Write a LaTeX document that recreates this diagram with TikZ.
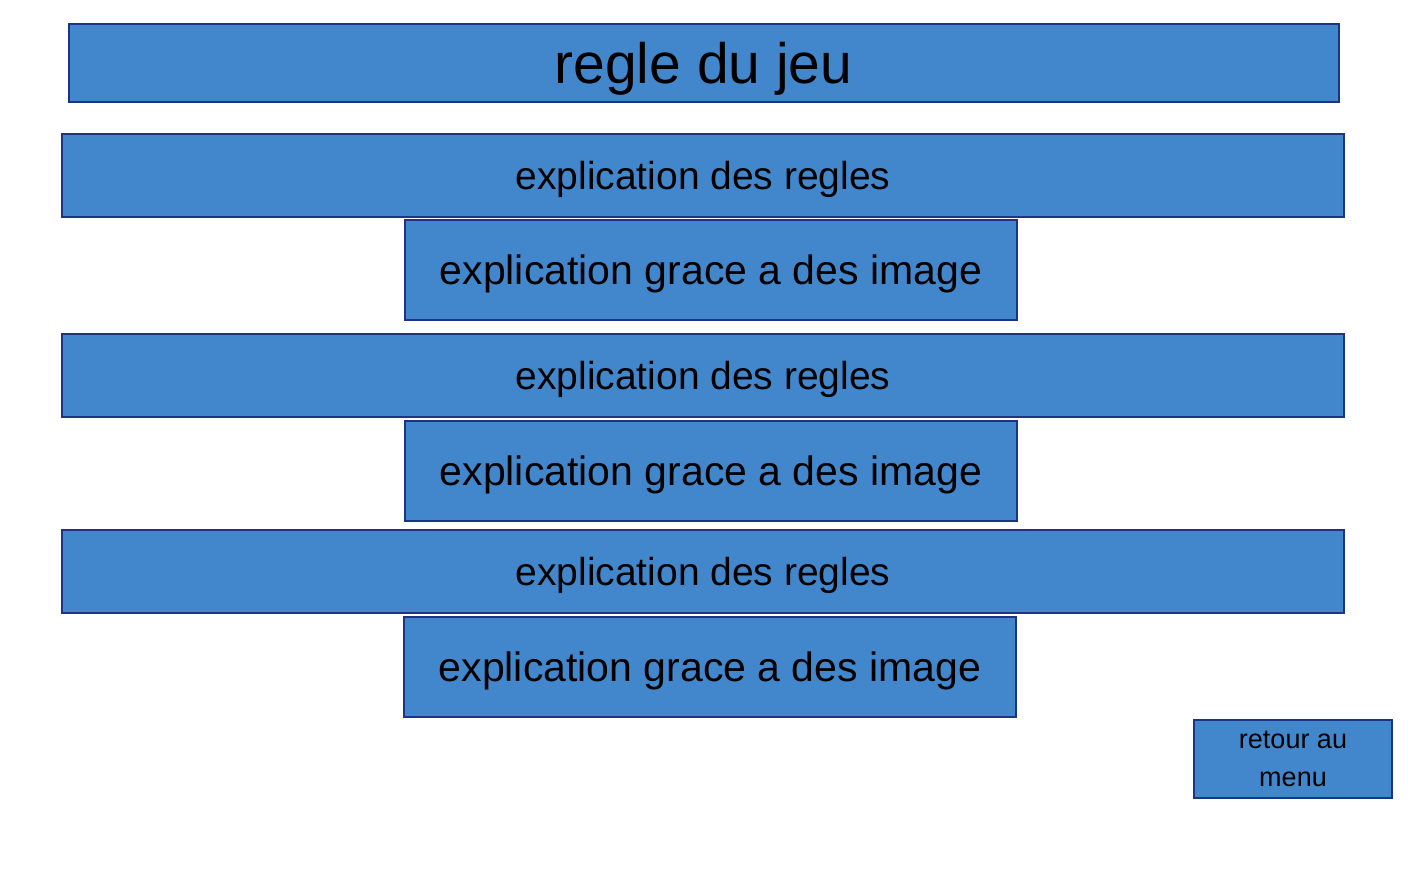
\documentclass[tikz,border=0pt]{standalone}
\usepackage{fontspec}
\setmainfont{Liberation Sans}
\usepackage{tikz}
\usetikzlibrary{positioning}

\definecolor{boxfill}{HTML}{4287CC}
\definecolor{boxline}{HTML}{1C3486}

\begin{document}
\begin{tikzpicture}[x=1pt, y=-1pt,
	box/.style = {draw=boxline, fill=boxfill, line width=2pt, rectangle, inner sep=0pt, text depth=0pt, text=black},
	titlebox/.style = {box, minimum width=1270pt, minimum height=78pt, font=\fontsize{57}{60}\selectfont},
	regbox/.style = {box, minimum width=1282pt, minimum height=83pt, font=\fontsize{39}{44}\selectfont},
	imgbox/.style = {box, minimum width=612pt, minimum height=100pt, font=\fontsize{41}{46}\selectfont},
	menubox/.style = {box, minimum width=198pt, minimum height=78pt, align=center, font=\fontsize{27}{38}\selectfont},
]
	\useasboundingbox (0,0) rectangle (1426,875);

	\node (t0) [titlebox] at (703.5,63) {regle du jeu};

	\node (r1) [regbox] at (703,175.5) {explication des regles};
	\node (i1) [imgbox] at (711,270) {explication grace a des image};

	\node (r2) [regbox] at (703,375.5) {explication des regles};
	\node (i2) [imgbox] at (711,471) {explication grace a des image};

	\node (r3) [regbox] at (703,571.5) {explication des regles};
	\node (i3) [imgbox] at (710,667) {explication grace a des image};

	\node (m0) [menubox] at (1293,759) {retour au\\menu};
\end{tikzpicture}
\end{document}
